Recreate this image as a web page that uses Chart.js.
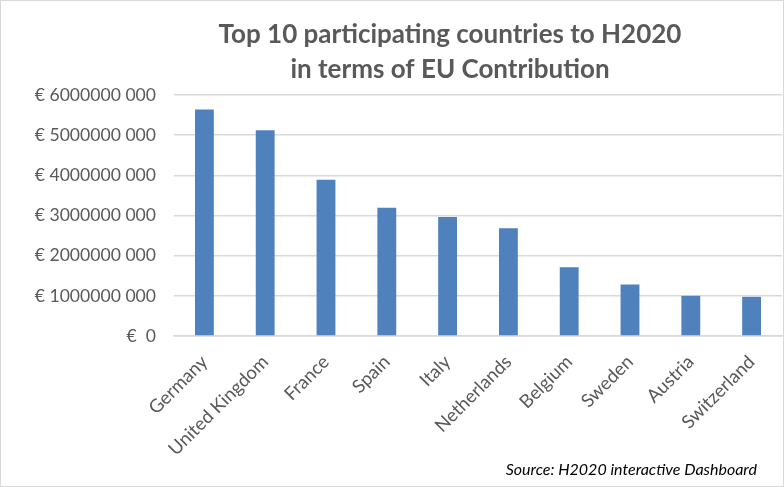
<!DOCTYPE html>
<html>
<head>
<meta charset="utf-8">
<script src="https://cdn.jsdelivr.net/npm/chart.js@4"></script>
<style>
  html, body { margin: 0; padding: 0; background: #fff; }
  #wrap { position: relative; width: 784px; height: 487px; box-sizing: border-box; border: 1px solid #d9d9d9; }
  canvas { display: block; }
</style>
</head>
<body>
<div id="wrap"><canvas id="c" width="782" height="485"></canvas></div>
<script>
const categories = ['Germany', 'United Kingdom', 'France', 'Spain', 'Italy', 'Netherlands', 'Belgium', 'Sweden', 'Austria', 'Switzerland'];
const euContribution = [5640000000, 5120000000, 3890000000, 3190000000, 2960000000, 2680000000, 1710000000, 1280000000, 1000000000, 975000000];
const yTickLabels = ['€  0', '€ 1000000 000', '€ 2000000 000', '€ 3000000 000', '€ 4000000 000', '€ 5000000 000', '€ 6000000 000'];
const titleLines = ['Top 10 participating countries to H2020', 'in terms of EU Contribution'];
const sourceText = 'Source: H2020 interactive Dashboard';

const FONT = 'Lato, "Open Sans", sans-serif';
Chart.defaults.font.family = FONT;
Chart.defaults.color = '#595959';

const textPlugin = {
  id: 'texts',
  afterDraw(chart) {
    const ctx = chart.ctx;
    ctx.save();
    ctx.textAlign = 'center';
    ctx.textBaseline = 'alphabetic';
    ctx.fillStyle = '#595959';
    ctx.font = 'bold 26px ' + FONT;
    ctx.fillText(titleLines[0], 449, 42);
    ctx.fillText(titleLines[1], 449, 77);
    ctx.textAlign = 'right';
    ctx.fillStyle = '#000';
    ctx.font = 'italic 16px ' + FONT;
    ctx.fillText(sourceText, 756, 474);
    ctx.restore();
  }
};

new Chart(document.getElementById('c'), {
  type: 'bar',
  data: {
    labels: categories,
    datasets: [{
      data: euContribution,
      backgroundColor: '#4f81bd',
      borderWidth: 0,
      categoryPercentage: 1,
      barPercentage: 0.31
    }]
  },
  plugins: [textPlugin],
  options: {
    responsive: false,
    animation: false,
    layout: { padding: { left: 0, right: 1, top: 94, bottom: 0 } },
    plugins: {
      legend: { display: false },
      tooltip: { enabled: false },
      title: { display: false }
    },
    scales: {
      x: {
        grid: { display: false },
        border: { display: true, color: '#d9d9d9', width: 1.5 },
        ticks: {
          color: '#595959',
          font: { size: 18.5 },
          minRotation: 45,
          maxRotation: 45,
          padding: 7
        },
        afterFit: (s) => { s.height = 150; }
      },
      y: {
        min: 0,
        max: 6000000000,
        grid: { color: '#d9d9d9', drawTicks: false, lineWidth: 1.5 },
        border: { display: false },
        ticks: {
          stepSize: 1000000000,
          color: '#595959',
          font: { size: 17.6 },
          padding: 18,
          callback: (v, i) => yTickLabels[i]
        },
        afterFit: (s) => { s.width = 173; }
      }
    }
  }
});
</script>
</body>
</html>
